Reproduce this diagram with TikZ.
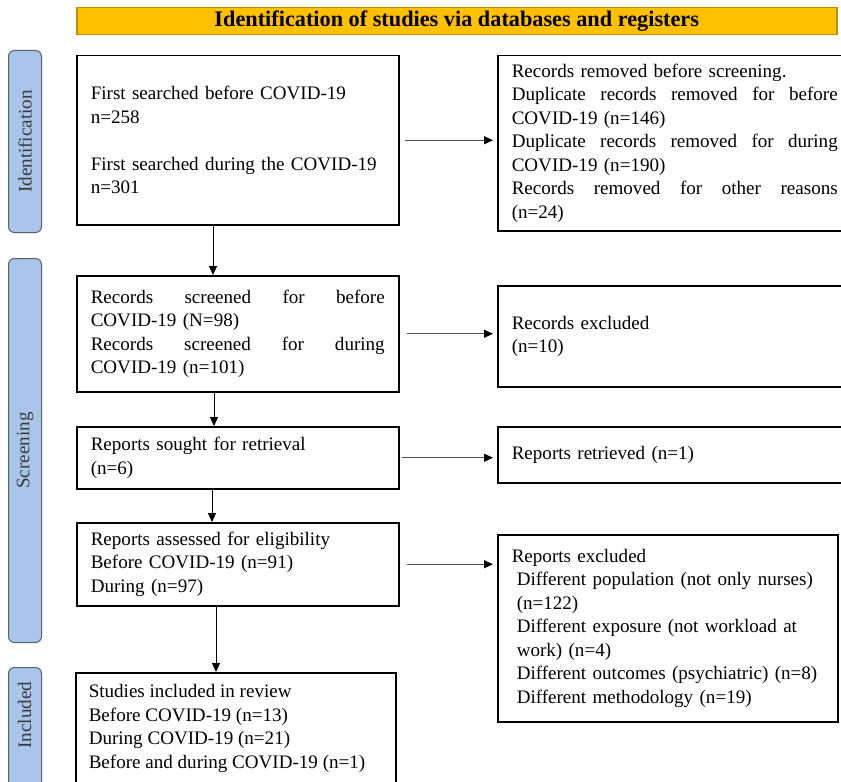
\documentclass[tikz,border=0pt]{standalone}
\usepackage{fontspec}
\setmainfont{Liberation Serif}
\usetikzlibrary{arrows.meta,calc}
\newlength\pxu \setlength\pxu{0.75pt}
\definecolor{bannerfill}{HTML}{FFC000}
\definecolor{bannerline}{HTML}{BF9000}
\definecolor{sidefill}{HTML}{A9C6EA}
\definecolor{sideline}{HTML}{56606E}
\definecolor{sidetext}{HTML}{3A3A3A}
\definecolor{arrgray}{HTML}{505050}
\newcommand\jl[2]{\leavevmode\hbox to #1{#2}}
\begin{document}
\begin{tikzpicture}[x=0.75pt,y=-0.75pt,
  every node/.style={font=\fontsize{14.3}{17.6}\selectfont},
  flowbox/.style={draw=black, line width=1.125pt, align=left, inner xsep=10.5pt, inner ysep=0pt, anchor=north west},
  sidebar/.style={draw=sideline, fill=sidefill, line width=0.75pt, rounded corners=4.5pt, anchor=north west, minimum width=24.75pt, inner sep=0pt},
  sidelabel/.style={rotate=90, text=sidetext},
  harrow/.style={draw=arrgray, line width=0.75pt, -{Triangle[length=6.75pt,width=6pt,color=black]}},
  varrow/.style={draw=black, line width=0.75pt, -{Triangle[length=6.75pt,width=6pt]}},
]
\useasboundingbox (0,0) rectangle (841,781);
\clip (0,0) rectangle (841,781);
\fill[white] (0,0) rectangle (841,781);

% banner
\node[draw=bannerline, fill=bannerfill, line width=1.125pt, minimum width=570pt, minimum height=20.25pt, inner sep=0pt, anchor=north west, font=\bfseries\fontsize{16.7}{20}\selectfont] (banner) at (76,7) {Identification of studies via databases and registers};

% side bars
\node[sidebar, minimum height=136.5pt] (sid) at (8,50) {};
\node[sidelabel] (sidt) at (sid.center) {Identification};
\node[sidebar, minimum height=288pt] (sscr) at (8,258) {};
\node[sidelabel] (sscrt) at (sscr.center) {Screening};
\node[sidebar, minimum height=112.5pt] (sinc) at (8,667) {};
\node[sidelabel] (sinct) at (24.5,715) {Included};

% left column
\node[flowbox, text width=220.5pt, minimum height=126.75pt] (b1) at (76,55)
  {First searched before COVID-19\\ n=258\\[17.625pt] First searched during the COVID-19\\ n=301};
\node[flowbox, text width=220.5pt, minimum height=87pt] (b2) at (76,275)
  {\jl{294\pxu}{Records\hfill screened\hfill for\hfill before}\\ COVID-19 (N=98)\\ \jl{294\pxu}{Records\hfill screened\hfill for\hfill during}\\ COVID-19 (n=101)};
\node[flowbox, text width=220.5pt, minimum height=46.5pt] (b3) at (76,426)
  {Reports sought for retrieval\\ (n=6)};
\node[flowbox, text width=220.5pt, minimum height=62.25pt] (b4) at (76,522)
  {Reports assessed for eligibility\\ Before COVID-19 (n=91)\\ During (n=97)};
\node[draw=black, line width=1.125pt, inner xsep=9.75pt, inner ysep=0pt, anchor=north west] (b5) at (75,672)
  {\parbox[t][112.5pt][t]{220.5pt}{\vspace*{6.5pt}\fontsize{14.3}{17.6}\selectfont\strut Studies included in review\\ Before COVID-19 (n=13)\\ During COVID-19 (n=21)\\ Before and during COVID-19 (n=1)}};

% right column
\node[flowbox, text width=244.5pt, minimum height=131.25pt] (r1) at (497,55)
  {Records removed before screening.\\ \jl{326\pxu}{Duplicate\hfill records\hfill removed\hfill for\hfill before}\\ COVID-19 (n=146)\\ \jl{326\pxu}{Duplicate\hfill records\hfill removed\hfill for\hfill during}\\ COVID-19 (n=190)\\ \jl{326\pxu}{Records\hfill removed\hfill for\hfill other\hfill reasons}\\ (n=24)};
\node[flowbox, text width=244.5pt, minimum height=75.75pt] (r2) at (497,285)
  {Records excluded\\ (n=10)};
\node[flowbox, text width=244.5pt, minimum height=42pt] (r3) at (497,426)
  {Reports retrieved (n=1)};
\node[flowbox, text width=234pt, minimum height=140.25pt] (r4) at (497,534)
  {\mbox{Reports excluded}\\
   \mbox{\hspace*{5\pxu}Different population (not only nurses)}\\
   \mbox{\hspace*{5\pxu}(n=122)}\\
   \mbox{\hspace*{5\pxu}Different exposure (not workload at}\\
   \mbox{\hspace*{5\pxu}work) (n=4)}\\
   \mbox{\hspace*{5\pxu}Different outcomes (psychiatric) (n=8)}\\
   \mbox{\hspace*{5\pxu}Different methodology (n=19)}};

% horizontal arrows
\draw[harrow, shorten <=3.75pt, shorten >=3pt] (b1.east) -- (b1.east -| r1.west);
\draw[harrow, shorten <=5.25pt, shorten >=3pt] (b2.east) -- (b2.east -| r2.west);
\draw[harrow, shorten <=1.5pt, shorten >=3pt] (b3.east) -- (b3.east -| r3.west);
\draw[harrow, shorten <=5.25pt, shorten >=3pt] (b4.east) -- (b4.east -| r4.west);

% vertical arrows
\coordinate (v1) at (213,0);
\coordinate (v2) at (214,0);
\coordinate (v3) at (212,0);
\coordinate (v4) at (216,0);
\draw[varrow] (b1.south -| v1) -- (b2.north -| v1);
\draw[varrow] (b2.south -| v2) -- (b3.north -| v2);
\draw[varrow] (b3.south -| v3) -- (b4.north -| v3);
\draw[varrow] (b4.south -| v4) -- (b5.north -| v4);
\end{tikzpicture}
\end{document}
